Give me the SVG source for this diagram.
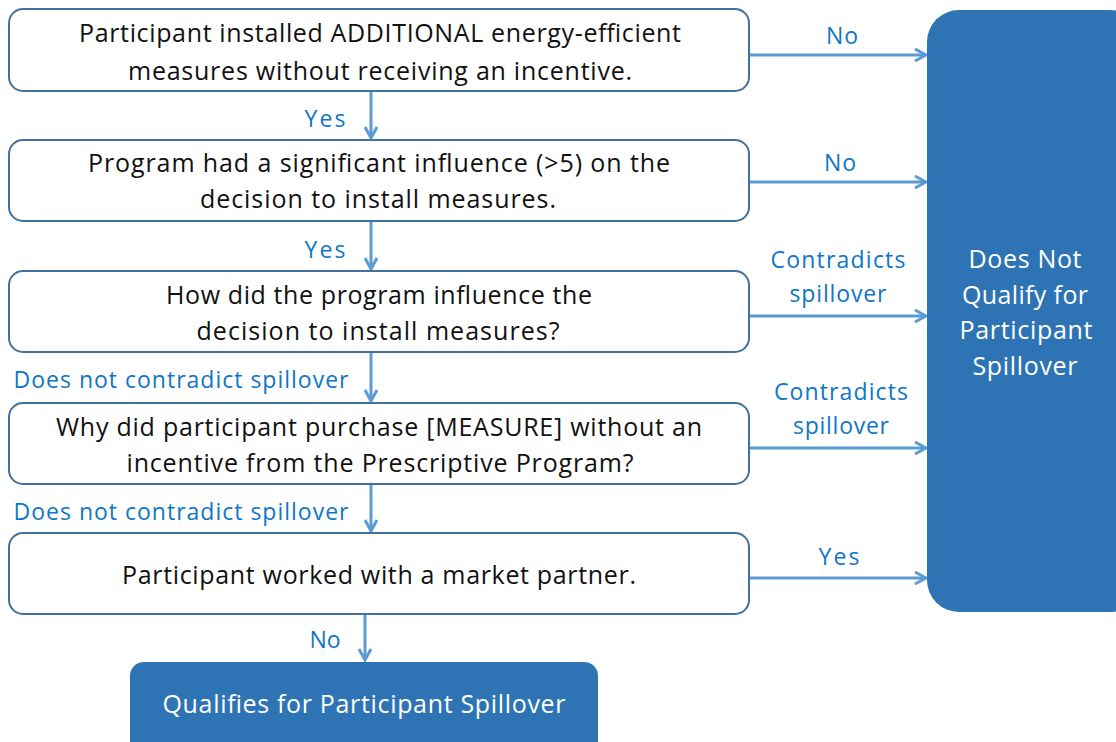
<svg xmlns="http://www.w3.org/2000/svg" width="1116" height="742" viewBox="0 0 1116 742">
<defs>
<style>
.q{fill:#fff;stroke:#41719C;stroke-width:2}
.d{fill:#2E74B5}
.t{font-family:"Open Sans","Liberation Sans",sans-serif;font-size:25px;fill:#111;text-anchor:middle}
.w{font-family:"Open Sans","Liberation Sans",sans-serif;font-size:25px;fill:#fff;text-anchor:middle}
.l{font-family:"Open Sans","Liberation Sans",sans-serif;font-size:23px;fill:#0F76C8;text-anchor:middle}
.c{stroke:#5B9BD5;stroke-width:3;fill:none}
</style>
<marker id="ah" markerWidth="14" markerHeight="14" viewBox="0 0 14 14" refX="12" refY="7" orient="auto" markerUnits="userSpaceOnUse">
<path d="M1,1 L12,7 L1,13" fill="none" stroke="#5B9BD5" stroke-width="3"/>
</marker>
</defs>
<rect width="1116" height="742" fill="#fff"/>
<g id="connectors">
<line class="c" x1="371" y1="92" x2="371" y2="138" marker-end="url(#ah)"/>
<line class="c" x1="371" y1="222" x2="371" y2="269" marker-end="url(#ah)"/>
<line class="c" x1="371" y1="353" x2="371" y2="401" marker-end="url(#ah)"/>
<line class="c" x1="371" y1="485" x2="371" y2="531" marker-end="url(#ah)"/>
<line class="c" x1="365" y1="615" x2="365" y2="660" marker-end="url(#ah)"/>
<line class="c" x1="750" y1="55" x2="926" y2="55" marker-end="url(#ah)"/>
<line class="c" x1="750" y1="182" x2="926" y2="182" marker-end="url(#ah)"/>
<line class="c" x1="750" y1="316" x2="926" y2="316" marker-end="url(#ah)"/>
<line class="c" x1="750" y1="448" x2="926" y2="448" marker-end="url(#ah)"/>
<line class="c" x1="750" y1="578" x2="926" y2="578" marker-end="url(#ah)"/>
<text class="l" x="325" y="127" textLength="41">Yes</text>
<text class="l" x="325" y="258" textLength="41">Yes</text>
<text class="l" x="181" y="388" textLength="335">Does not contradict spillover</text>
<text class="l" x="181" y="520" textLength="335">Does not contradict spillover</text>
<text class="l" x="325" y="648" textLength="31">No</text>
<text class="l" x="842" y="44" textLength="32">No</text>
<text class="l" x="840" y="171" textLength="32">No</text>
<text class="l" x="838" y="268" textLength="135">Contradicts</text>
<text class="l" x="838" y="302" textLength="97">spillover</text>
<text class="l" x="841" y="400" textLength="134">Contradicts</text>
<text class="l" x="841" y="434" textLength="96">spillover</text>
<text class="l" x="839" y="565" textLength="41">Yes</text>
</g>
<g id="n1">
<rect class="q" x="9" y="9" width="740" height="82" rx="14"/>
<text class="t" x="380" y="42" textLength="602">Participant installed ADDITIONAL energy-efficient</text>
<text class="t" x="380" y="80" textLength="504">measures without receiving an incentive.</text>
</g>
<g id="n2">
<rect class="q" x="9" y="140" width="740" height="81" rx="14"/>
<text class="t" x="379" y="172" textLength="582">Program had a significant influence (&gt;5) on the</text>
<text class="t" x="378" y="208" textLength="356">decision to install measures.</text>
</g>
<g id="n3">
<rect class="q" x="9" y="271" width="740" height="81" rx="14"/>
<text class="t" x="379" y="304" textLength="426">How did the program influence the</text>
<text class="t" x="378" y="340" textLength="363">decision to install measures?</text>
</g>
<g id="n4">
<rect class="q" x="9" y="403" width="740" height="81" rx="14"/>
<text class="t" x="379" y="436" textLength="646">Why did participant purchase [MEASURE] without an</text>
<text class="t" x="380" y="472" textLength="507">incentive from the Prescriptive Program?</text>
</g>
<g id="n5">
<rect class="q" x="9" y="533" width="740" height="81" rx="14"/>
<text class="t" x="379" y="584" textLength="514">Participant worked with a market partner.</text>
</g>
<g id="notq">
<rect class="d" x="927" y="10" width="215" height="602" rx="32"/>
<text class="w" x="1025" y="268" textLength="113">Does Not</text>
<text class="w" x="1025" y="304" textLength="126">Qualify for</text>
<text class="w" x="1026" y="339" textLength="133">Participant</text>
<text class="w" x="1025" y="375" textLength="105">Spillover</text>
</g>
<g id="qual">
<rect class="d" x="130" y="662" width="468" height="100" rx="14"/>
<text class="w" x="364" y="713" textLength="403">Qualifies for Participant Spillover</text>
</g>
</svg>
